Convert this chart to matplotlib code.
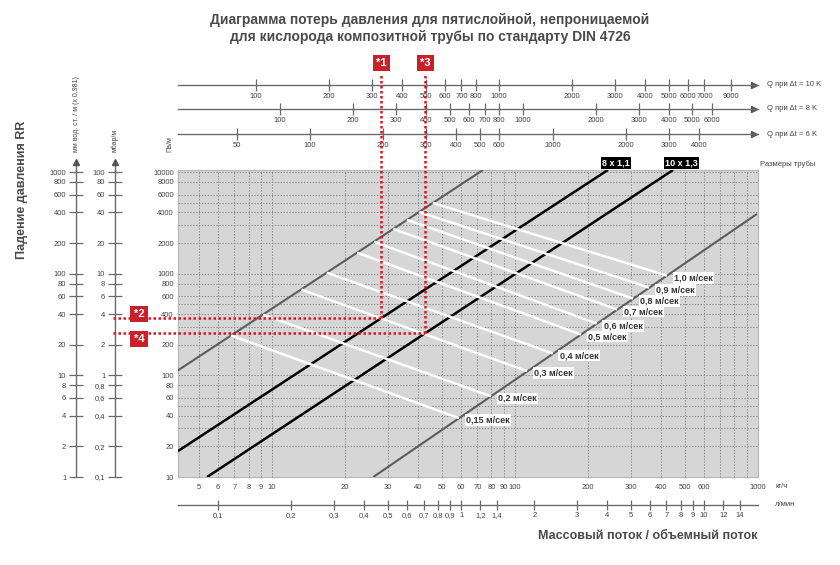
import numpy as np
import matplotlib
matplotlib.use('Agg')
import matplotlib.pyplot as plt
from matplotlib.lines import Line2D
from matplotlib.ticker import NullLocator, NullFormatter

plt.rcParams['font.family'] = ['Liberation Sans', 'DejaVu Sans']

# Массовый поток, кг/ч (подписи и сетка)
flow_ticks = [5, 6, 7, 8, 9, 10, 20, 30, 40, 50, 60, 70, 80, 90, 100, 200, 300, 400, 500, 600, 1000]
flow_grid = [700, 800, 900]
# Удельные потери давления, Па/м
drop_ticks = [10, 20, 40, 60, 80, 100, 200, 400, 600, 800, 1000, 2000, 4000, 6000, 8000, 10000]
drop_grid = [30, 50, 300, 500, 3000, 5000]

# Тепловая мощность, Вт, при разных dt
q10_ticks = [100, 200, 300, 400, 500, 600, 700, 800, 1000, 2000, 3000, 4000, 5000, 6000, 7000, 9000]
q8_ticks = [100, 200, 300, 400, 500, 600, 700, 800, 1000, 2000, 3000, 4000, 5000, 6000]
q6_ticks = [50, 100, 200, 300, 400, 500, 600, 1000, 2000, 3000, 4000]
# Объемный поток, л/мин
lmin_ticks = [0.1, 0.2, 0.3, 0.4, 0.5, 0.6, 0.7, 0.8, 0.9, 1, 1.2, 1.4, 2, 3, 4, 5, 6, 7, 8, 9, 10, 12, 14]

# Линии труб: две точки (кг/ч, Па/м)
pipe_names = ['', '8 x 1,1', '10 x 1,3', '']
pipe_flow_a = [4.1, 4.1, 5.4, 26.1]
pipe_drop_a = [112, 18, 10, 10]
pipe_flow_b = [73.8, 241, 447, 990]
pipe_drop_b = [10470, 10470, 10470, 3870]

# Линии скорости
speed_labels = ['1,0', '0,9', '0,8', '0,7', '0,6', '0,5', '0,4', '0,3', '0,2', '0,15']
speed_flow_a = [45.9, 40.3, 35.9, 31.5, 26.3, 22.4, 16.8, 13.2, 9.18, 6.78]
speed_drop_a = [4970, 4055, 3383, 2761, 2060, 1607, 1023, 697, 396, 247]
speed_flow_b = [422, 356, 306, 263, 217, 187, 143, 112, 79.6, 58.8]
speed_drop_b = [956, 729, 569, 444, 323, 252, 164, 110, 62.2, 37.9]

# Примеры: *1/*2 и *3/*4
example_flow = [28.2, 42.7]
example_pipe = [1, 2]
example_marks = [('*1', '*2'), ('*3', '*4')]


def fmt(v):
    return f'{v:g}'.replace('.', ',')


W, H = 840, 565
def fx(px):
    return px / W
def fy(py):
    return 1 - py / H

L, R, T, B = 178, 758, 170, 477
TXT = '#444444'
AX = '#6a6a6a'
RED = '#e0101e'

fig = plt.figure(figsize=(8.4, 5.65), dpi=100)
fig.patch.set_facecolor('white')

ax = fig.add_axes([fx(L), fy(B), fx(R) - fx(L), fy(T) - fy(B)])
ax.set_zorder(5)
ax.set_xscale('log')
ax.set_yscale('log')
ax.set_xlim(4.1, 1000)
ax.set_ylim(10, 10470)
ax.set_facecolor('#d6d6d6')
for s in ax.spines.values():
    s.set_color('#b5b5b5')
    s.set_linewidth(0.8)

ax.set_xticks(flow_ticks, [fmt(v) for v in flow_ticks])
ax.set_xticks(flow_grid, minor=True)
ax.set_yticks(drop_ticks, [fmt(v) for v in drop_ticks])
ax.set_yticks(drop_grid, minor=True)
ax.xaxis.set_minor_formatter(NullFormatter())
ax.yaxis.set_minor_formatter(NullFormatter())
ax.tick_params(which='both', length=0, labelsize=5.5, labelcolor=TXT)
ax.tick_params(axis='x', pad=5)
ax.tick_params(axis='y', pad=3)
ax.grid(which='both', color='#8c8c8c', linestyle=(0, (1.5, 1.5)), linewidth=0.7)
ax.set_axisbelow(True)

# линии труб
for i, name in enumerate(pipe_names):
    col = '#000000' if name else '#5c5c5c'
    lw = 1.8 if name else 1.5
    ax.plot([pipe_flow_a[i], pipe_flow_b[i]], [pipe_drop_a[i], pipe_drop_b[i]],
            color=col, lw=lw, zorder=3, solid_capstyle='butt')
    if name:
        ax.annotate(name, xy=(pipe_flow_b[i], pipe_drop_b[i]), xytext=(6, 2),
                    textcoords='offset points', ha='center', va='bottom',
                    fontsize=6.5, fontweight='bold', color='white',
                    bbox=dict(boxstyle='square,pad=0.15', fc='black', ec='none'),
                    annotation_clip=False, zorder=6)

# линии скорости
for i, lab in enumerate(speed_labels):
    ax.plot([speed_flow_a[i], speed_flow_b[i]], [speed_drop_a[i], speed_drop_b[i]],
            color='white', lw=1.8, zorder=4, solid_capstyle='butt')
    ax.annotate(lab + ' м/сек', xy=(speed_flow_b[i], speed_drop_b[i]), xytext=(5, -1.5),
                textcoords='offset points', ha='left', va='center',
                fontsize=6.5, fontweight='bold', color='#333333',
                bbox=dict(boxstyle='square,pad=0.15', fc='white', ec='none'),
                zorder=6, annotation_clip=False)


# шкалы расхода / мощности
def flow_axis(py, ticks, labels, arrow, tick_len):
    a = fig.add_axes([fx(L), fy(py), fx(R) - fx(L), 1e-4])
    a.set_xscale('log')
    a.set_xlim(ax.get_xlim())
    a.set_facecolor('none')
    for s in ['top', 'left', 'right']:
        a.spines[s].set_visible(False)
    a.spines['bottom'].set_color(AX)
    a.spines['bottom'].set_linewidth(1.0)
    a.set_yticks([])
    a.set_xticks(ticks, labels)
    a.xaxis.set_minor_locator(NullLocator())
    a.tick_params(axis='x', direction='inout', length=tick_len, width=0.9, color=AX,
                  labelsize=5.5, labelcolor=TXT, pad=1.5)
    if arrow:
        a.plot(0.993, 0, marker='>', ms=5, color='#555555', transform=a.transAxes,
               clip_on=False)
    return a


flow_axis(85, np.array(q10_ticks) / (1.163 * 10), [fmt(v) for v in q10_ticks], True, 8)
flow_axis(109, np.array(q8_ticks) / (1.163 * 8), [fmt(v) for v in q8_ticks], True, 8)
flow_axis(134, np.array(q6_ticks) / (1.163 * 6), [fmt(v) for v in q6_ticks], True, 8)
flow_axis(505, np.array(lmin_ticks) * 60, [fmt(v) for v in lmin_ticks], False, 7)

for py, dt in [(85, 10), (109, 8), (134, 6)]:
    fig.text(fx(767), fy(py), f'Q при Δt = {dt} K', fontsize=5.5, color=TXT,
             ha='left', va='center')
fig.text(fx(775), fy(486), 'кг/ч', fontsize=5.5, color=TXT, ha='left', va='center')
fig.text(fx(775), fy(505), 'л/мин', fontsize=5.5, color=TXT, ha='left', va='center')
fig.text(fx(760), fy(164), 'Размеры трубы', fontsize=5.5, color=TXT, ha='left', va='center')


# шкалы потерь давления слева
def side_axis(px, labels):
    a = fig.add_axes([fx(px), fy(B), 1e-4, fy(T) - fy(B)])
    a.set_yscale('log')
    a.set_ylim(ax.get_ylim())
    a.set_facecolor('none')
    for s in ['top', 'right', 'bottom']:
        a.spines[s].set_visible(False)
    a.spines['left'].set_color(AX)
    a.spines['left'].set_linewidth(1.0)
    a.spines['left'].set_bounds(10, 10470)
    a.set_xticks([])
    a.set_yticks(drop_ticks, labels)
    a.yaxis.set_minor_locator(NullLocator())
    a.tick_params(axis='y', direction='inout', length=10, width=0.9, color=AX,
                  labelsize=5.5, labelcolor=TXT, pad=2)
    a.plot([0, 0], [1, 1.025], transform=a.transAxes, color=AX, lw=1.0, clip_on=False)
    a.plot(0, 1.027, marker='^', ms=4, color='#555555', transform=a.transAxes,
           clip_on=False)
    return a


side_axis(76, [fmt(v / 10) for v in drop_ticks])
side_axis(115, [fmt(v / 100) for v in drop_ticks])

fig.text(fx(76), fy(152), 'мм вод. ст. / м (x 0,981)', rotation=90, fontsize=5, color=TXT,
         ha='center', va='bottom')
fig.text(fx(115), fy(152), 'мбар/м', rotation=90, fontsize=5, color=TXT,
         ha='center', va='bottom')
fig.text(fx(170), fy(152), 'Па/м', rotation=90, fontsize=5, color=TXT,
         ha='center', va='bottom')

# заголовки
fig.text(fx(430), fy(20), 'Диаграмма потерь давления для пятислойной, непроницаемой',
         fontsize=10, fontweight='bold', color='#4a4a4a', ha='center', va='center')
fig.text(fx(430), fy(37), 'для кислорода композитной трубы по стандарту DIN 4726',
         fontsize=10, fontweight='bold', color='#4a4a4a', ha='center', va='center')
fig.text(fx(757), fy(536), 'Массовый поток / объемный поток', fontsize=9,
         fontweight='bold', color='#4a4a4a', ha='right', va='center')
fig.text(fx(22), fy(190), 'Падение давления RR', rotation=90, fontsize=9,
         fontweight='bold', color='#4a4a4a', ha='center', va='center')

# примеры с красными метками
to_fig = ax.transData + fig.transFigure.inverted()
box_y = [314, 339]
for k, flow in enumerate(example_flow):
    p = example_pipe[k]
    lx = np.log10([pipe_flow_a[p], pipe_flow_b[p]])
    ly = np.log10([pipe_drop_a[p], pipe_drop_b[p]])
    drop = 10 ** np.interp(np.log10(flow), lx, ly)
    px_, py_ = to_fig.transform((flow, drop))
    fig.add_artist(Line2D([px_, px_], [py_, fy(73)], color=RED, lw=1.8,
                          linestyle=(0, (1, 1)), zorder=8))
    fig.add_artist(Line2D([fx(113), px_], [py_, py_], color=RED, lw=1.8,
                          linestyle=(0, (1, 1)), zorder=8))
    top_lab, side_lab = example_marks[k]
    fig.text(px_, fy(63), top_lab, fontsize=8, fontweight='bold', color='white',
             ha='center', va='center', zorder=9,
             bbox=dict(boxstyle='square,pad=0.3', fc='#c9202a', ec='none'))
    fig.text(fx(139), fy(box_y[k]), side_lab, fontsize=8, fontweight='bold', color='white',
             ha='center', va='center', zorder=9,
             bbox=dict(boxstyle='square,pad=0.3', fc='#c9202a', ec='none'))

fig.savefig('out.png', dpi=100)
